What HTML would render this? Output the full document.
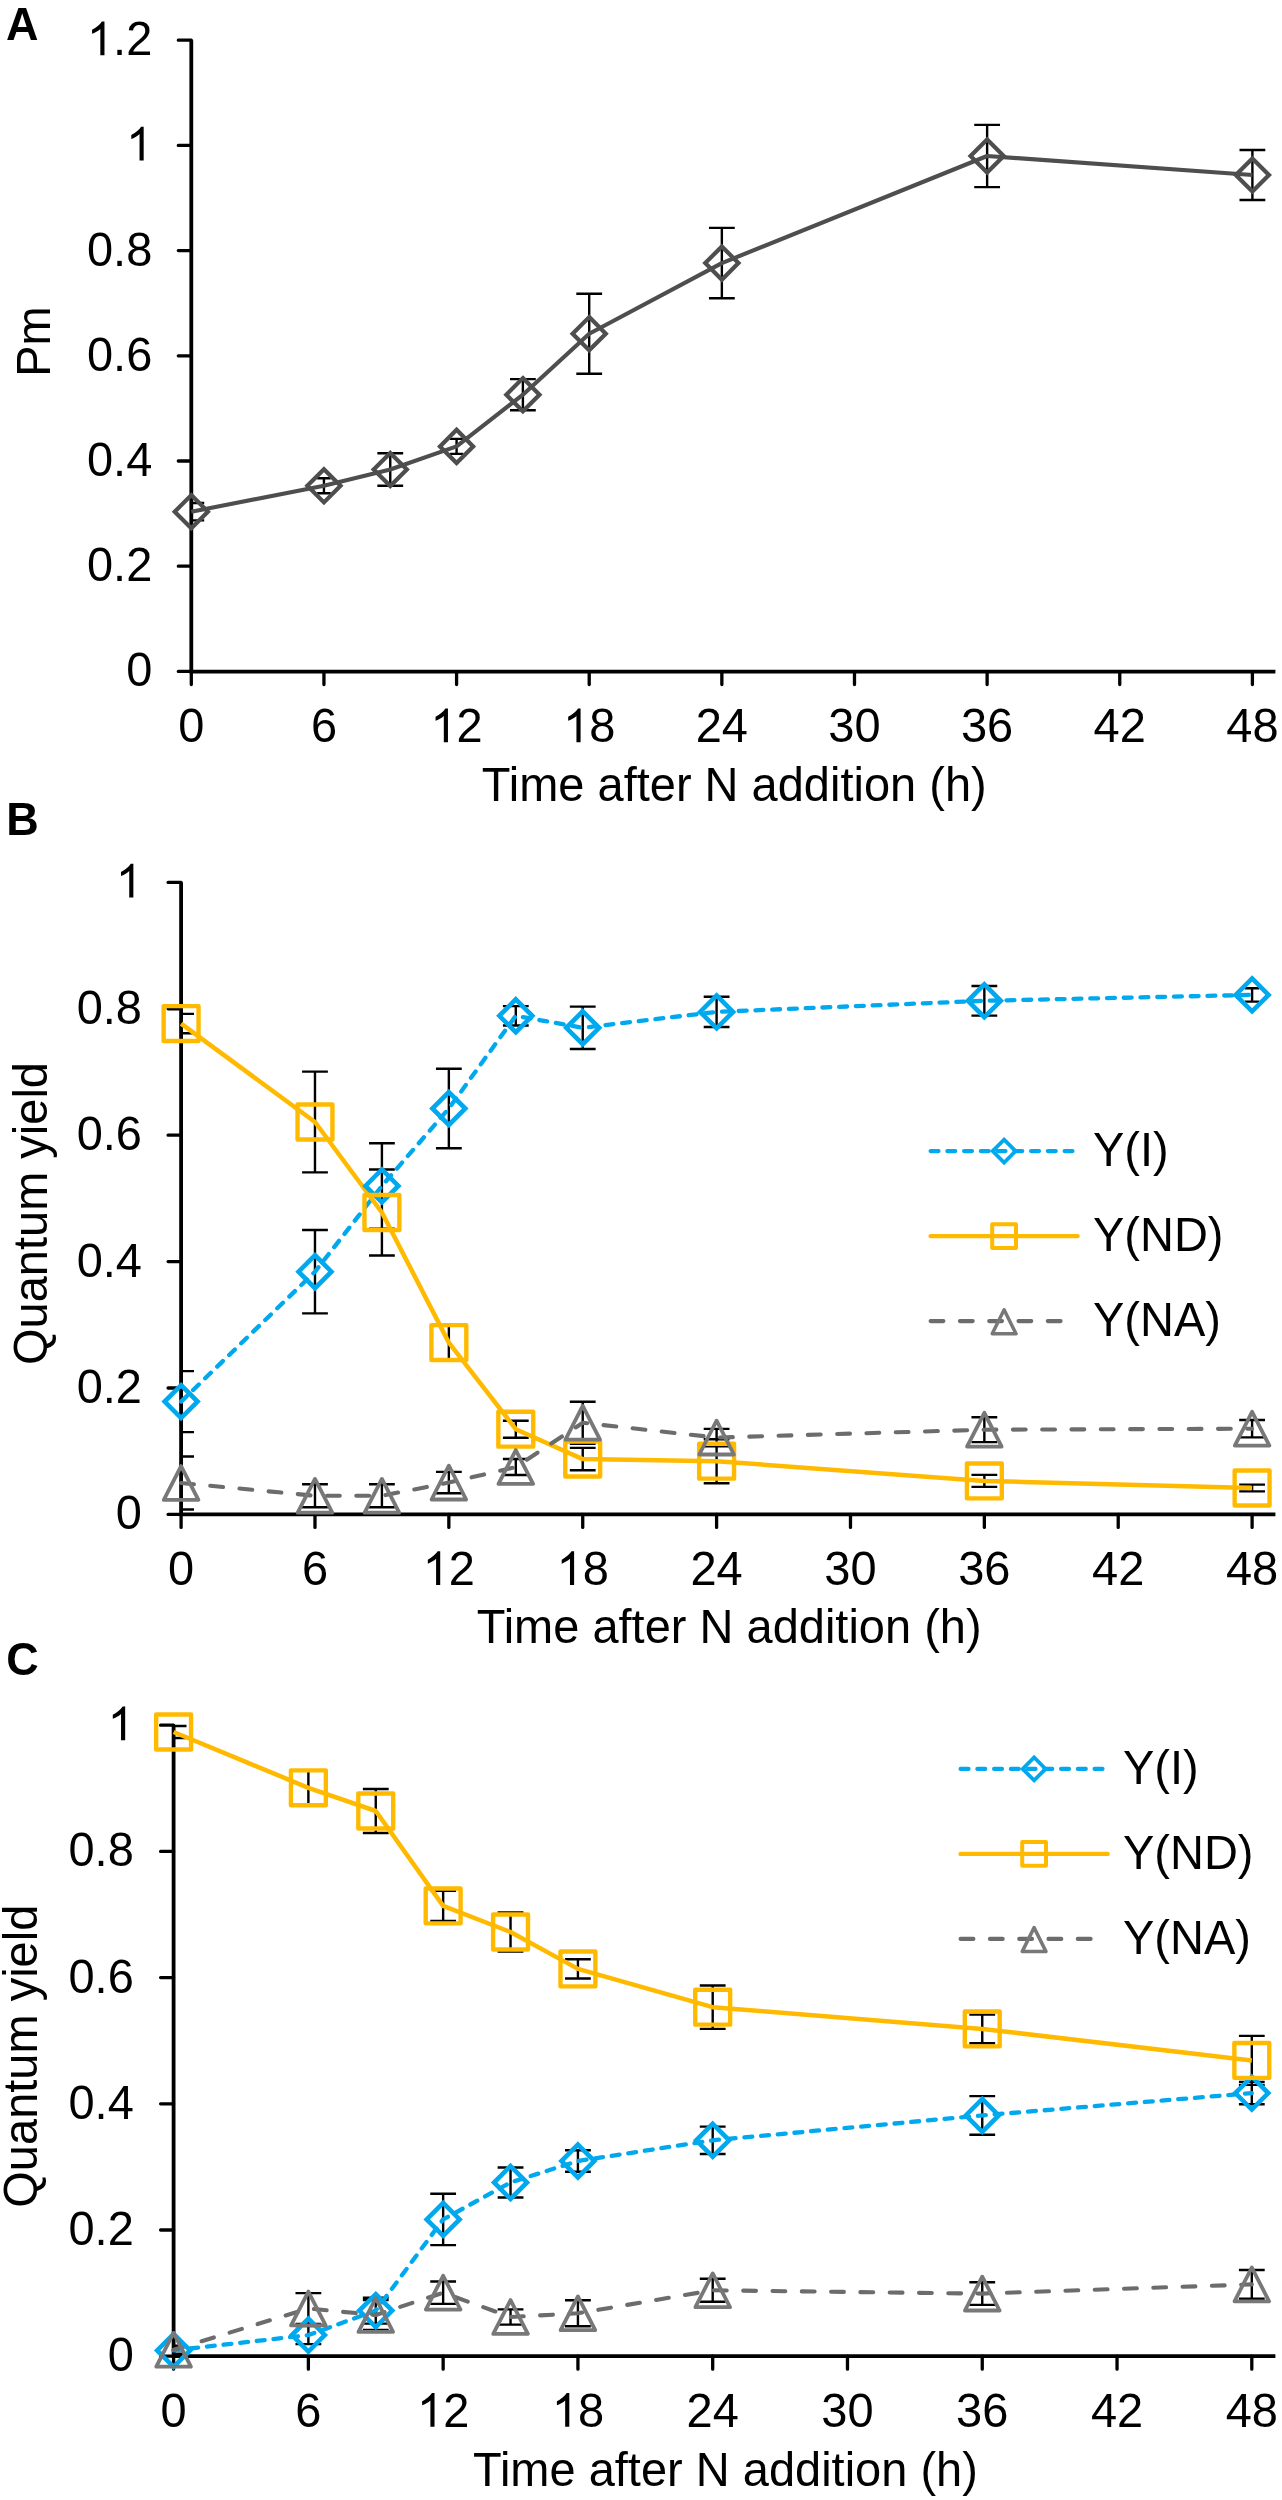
<!DOCTYPE html><html><head><meta charset="utf-8"><title>Figure</title><style>html,body{margin:0;padding:0;background:#fff;}svg{display:block;filter:blur(0.45px);}text{font-family:"Liberation Sans", sans-serif;fill:#000;}</style></head><body>
<svg width="1282" height="2500" viewBox="0 0 1282 2500">
<rect width="1282" height="2500" fill="#fff"/>
<text transform="translate(6 39.8) scale(1 1.0405)" font-size="45" font-weight="bold">A</text>
<path d="M191.3 40.2V671.6H1275.4" stroke="#000" stroke-width="3.8" fill="none" stroke-linejoin="miter" stroke-linecap="butt"/>
<path d="M178.3 671.4H191.3M178.3 566.2H191.3M178.3 461H191.3M178.3 355.8H191.3M178.3 250.6H191.3M178.3 145.4H191.3M178.3 40.2H191.3M191.3 671.6V684.6M323.94 671.6V684.6M456.58 671.6V684.6M589.21 671.6V684.6M721.85 671.6V684.6M854.49 671.6V684.6M987.12 671.6V684.6M1119.76 671.6V684.6M1252.4 671.6V684.6" stroke="#000" stroke-width="3.3" fill="none" stroke-linecap="round"/>
<text transform="translate(152.3 686.4) scale(1 1.0405)" font-size="47" text-anchor="end">0</text>
<text transform="translate(152.3 581.2) scale(1 1.0405)" font-size="47" text-anchor="end">0.2</text>
<text transform="translate(152.3 476) scale(1 1.0405)" font-size="47" text-anchor="end">0.4</text>
<text transform="translate(152.3 370.8) scale(1 1.0405)" font-size="47" text-anchor="end">0.6</text>
<text transform="translate(152.3 265.6) scale(1 1.0405)" font-size="47" text-anchor="end">0.8</text>
<path transform="translate(126.16 160.4) scale(0.02295 -0.02295)" d="M763 0L583 0L583 1147Q518 1085 412 1023Q306 961 223 930L223 1104Q342 1160 483 1280Q600 1380 651 1466L763 1466Z"/>
<text transform="translate(152.3 55.2) scale(1 1.0405)" font-size="47" text-anchor="end"> .2</text><path transform="translate(86.96 55.2) scale(0.02295 -0.02295)" d="M763 0L583 0L583 1147Q518 1085 412 1023Q306 961 223 930L223 1104Q342 1160 483 1280Q600 1380 651 1466L763 1466Z"/>
<text transform="translate(191.3 742.2) scale(1 1.0405)" font-size="47" text-anchor="middle">0</text>
<text transform="translate(323.94 742.2) scale(1 1.0405)" font-size="47" text-anchor="middle">6</text>
<text transform="translate(456.58 742.2) scale(1 1.0405)" font-size="47" text-anchor="middle"> 2</text><path transform="translate(430.44 742.2) scale(0.02295 -0.02295)" d="M763 0L583 0L583 1147Q518 1085 412 1023Q306 961 223 930L223 1104Q342 1160 483 1280Q600 1380 651 1466L763 1466Z"/>
<text transform="translate(589.21 742.2) scale(1 1.0405)" font-size="47" text-anchor="middle"> 8</text><path transform="translate(563.07 742.2) scale(0.02295 -0.02295)" d="M763 0L583 0L583 1147Q518 1085 412 1023Q306 961 223 930L223 1104Q342 1160 483 1280Q600 1380 651 1466L763 1466Z"/>
<text transform="translate(721.85 742.2) scale(1 1.0405)" font-size="47" text-anchor="middle">24</text>
<text transform="translate(854.49 742.2) scale(1 1.0405)" font-size="47" text-anchor="middle">30</text>
<text transform="translate(987.12 742.2) scale(1 1.0405)" font-size="47" text-anchor="middle">36</text>
<text transform="translate(1119.76 742.2) scale(1 1.0405)" font-size="47" text-anchor="middle">42</text>
<text transform="translate(1252.4 742.2) scale(1 1.0405)" font-size="47" text-anchor="middle">48</text>
<text transform="translate(734.25 801.2) scale(1 1.0405)" font-size="47" text-anchor="middle">Time after N addition (h)</text>
<text transform="translate(49.6 341.5) rotate(-90) scale(1 1.0405)" font-size="47" text-anchor="middle">Pm</text>
<path d="M191.3 503V520.4M191.3 503H204.2M191.3 520.4H204.2M323.94 478.3V493.3M317.14 478.3H330.74M317.14 493.3H330.74M390.26 453.3V485.7M377.36 453.3H403.16M377.36 485.7H403.16M456.58 438.9V453.9M449.98 438.9H463.18M449.98 453.9H463.18M522.89 379.1V410.3M509.99 379.1H535.79M509.99 410.3H535.79M589.21 293.7V373.7M576.31 293.7H602.11M576.31 373.7H602.11M721.85 227.9V298.3M708.95 227.9H734.75M708.95 298.3H734.75M987.13 124.9V187.1M974.23 124.9H1000.03M974.23 187.1H1000.03M1252.4 150V200M1239.5 150H1265.3M1239.5 200H1265.3" stroke="#000" stroke-width="2.4" fill="none"/>
<path d="M191.3 511.7L323.94 485.8L390.26 469.5L456.58 446.4L522.89 394.7L589.21 333.7L721.85 263.1L987.13 156L1252.4 175" fill="none" stroke="#4E4E4E" stroke-width="4.1" stroke-linejoin="round" stroke-linecap="butt"/>
<path d="M191.3 495.1L207.9 511.7L191.3 528.3L174.7 511.7Z" fill="none" stroke="#4E4E4E" stroke-width="4.2" stroke-linejoin="miter"/>
<path d="M323.94 469.2L340.54 485.8L323.94 502.4L307.34 485.8Z" fill="none" stroke="#4E4E4E" stroke-width="4.2" stroke-linejoin="miter"/>
<path d="M390.26 452.9L406.86 469.5L390.26 486.1L373.66 469.5Z" fill="none" stroke="#4E4E4E" stroke-width="4.2" stroke-linejoin="miter"/>
<path d="M456.58 429.8L473.18 446.4L456.58 463L439.98 446.4Z" fill="none" stroke="#4E4E4E" stroke-width="4.2" stroke-linejoin="miter"/>
<path d="M522.89 378.1L539.49 394.7L522.89 411.3L506.29 394.7Z" fill="none" stroke="#4E4E4E" stroke-width="4.2" stroke-linejoin="miter"/>
<path d="M589.21 317.1L605.81 333.7L589.21 350.3L572.61 333.7Z" fill="none" stroke="#4E4E4E" stroke-width="4.2" stroke-linejoin="miter"/>
<path d="M721.85 246.5L738.45 263.1L721.85 279.7L705.25 263.1Z" fill="none" stroke="#4E4E4E" stroke-width="4.2" stroke-linejoin="miter"/>
<path d="M987.13 139.4L1003.73 156L987.13 172.6L970.53 156Z" fill="none" stroke="#4E4E4E" stroke-width="4.2" stroke-linejoin="miter"/>
<path d="M1252.4 158.4L1269 175L1252.4 191.6L1235.8 175Z" fill="none" stroke="#4E4E4E" stroke-width="4.2" stroke-linejoin="miter"/>
<text transform="translate(6.3 835.2) scale(1 1.0405)" font-size="45" font-weight="bold">B</text>
<path d="M181.1 882.4V1514.4H1275.4" stroke="#000" stroke-width="3.8" fill="none" stroke-linejoin="miter" stroke-linecap="butt"/>
<path d="M168.1 1514.4H181.1M168.1 1388H181.1M168.1 1261.6H181.1M168.1 1135.2H181.1M168.1 1008.8H181.1M168.1 882.4H181.1M181.1 1514.4V1527.4M314.98 1514.4V1527.4M448.85 1514.4V1527.4M582.73 1514.4V1527.4M716.6 1514.4V1527.4M850.48 1514.4V1527.4M984.35 1514.4V1527.4M1118.22 1514.4V1527.4M1252.1 1514.4V1527.4" stroke="#000" stroke-width="3.3" fill="none" stroke-linecap="round"/>
<text transform="translate(142 1529.4) scale(1 1.0405)" font-size="47" text-anchor="end">0</text>
<text transform="translate(142 1403) scale(1 1.0405)" font-size="47" text-anchor="end">0.2</text>
<text transform="translate(142 1276.6) scale(1 1.0405)" font-size="47" text-anchor="end">0.4</text>
<text transform="translate(142 1150.2) scale(1 1.0405)" font-size="47" text-anchor="end">0.6</text>
<text transform="translate(142 1023.8) scale(1 1.0405)" font-size="47" text-anchor="end">0.8</text>
<path transform="translate(115.86 897.4) scale(0.02295 -0.02295)" d="M763 0L583 0L583 1147Q518 1085 412 1023Q306 961 223 930L223 1104Q342 1160 483 1280Q600 1380 651 1466L763 1466Z"/>
<text transform="translate(181.1 1585) scale(1 1.0405)" font-size="47" text-anchor="middle">0</text>
<text transform="translate(314.98 1585) scale(1 1.0405)" font-size="47" text-anchor="middle">6</text>
<text transform="translate(448.85 1585) scale(1 1.0405)" font-size="47" text-anchor="middle"> 2</text><path transform="translate(422.71 1585) scale(0.02295 -0.02295)" d="M763 0L583 0L583 1147Q518 1085 412 1023Q306 961 223 930L223 1104Q342 1160 483 1280Q600 1380 651 1466L763 1466Z"/>
<text transform="translate(582.73 1585) scale(1 1.0405)" font-size="47" text-anchor="middle"> 8</text><path transform="translate(556.59 1585) scale(0.02295 -0.02295)" d="M763 0L583 0L583 1147Q518 1085 412 1023Q306 961 223 930L223 1104Q342 1160 483 1280Q600 1380 651 1466L763 1466Z"/>
<text transform="translate(716.6 1585) scale(1 1.0405)" font-size="47" text-anchor="middle">24</text>
<text transform="translate(850.48 1585) scale(1 1.0405)" font-size="47" text-anchor="middle">30</text>
<text transform="translate(984.35 1585) scale(1 1.0405)" font-size="47" text-anchor="middle">36</text>
<text transform="translate(1118.22 1585) scale(1 1.0405)" font-size="47" text-anchor="middle">42</text>
<text transform="translate(1252.1 1585) scale(1 1.0405)" font-size="47" text-anchor="middle">48</text>
<text transform="translate(729.15 1643) scale(1 1.0405)" font-size="47" text-anchor="middle">Time after N addition (h)</text>
<text transform="translate(47.1 1213.5) rotate(-90) scale(1 1.0405)" font-size="47" text-anchor="middle">Quantum yield</text>
<path d="M181.1 1371.1V1432.1M181.1 1371.1H194M181.1 1432.1H194M181.1 1013.9V1033.3M181.1 1013.9H194M181.1 1033.3H194M181.1 1456.5V1509.5M181.1 1456.5H194M181.1 1509.5H194M314.98 1230V1313.4M302.08 1230H327.88M302.08 1313.4H327.88M314.98 1071.6V1172.4M302.08 1071.6H327.88M302.08 1172.4H327.88M314.98 1484.3V1507.3M302.08 1484.3H327.88M302.08 1507.3H327.88M381.91 1143.2V1228.6M369.01 1143.2H394.81M369.01 1228.6H394.81M381.91 1169.5V1255.5M369.01 1169.5H394.81M369.01 1255.5H394.81M381.91 1484.3V1507.3M369.01 1484.3H394.81M369.01 1507.3H394.81M448.85 1068.7V1148.3M435.95 1068.7H461.75M435.95 1148.3H461.75M448.85 1325.6V1359.6M435.95 1325.6H461.75M435.95 1359.6H461.75M448.85 1471.9V1493.3M435.95 1471.9H461.75M435.95 1493.3H461.75M515.79 1006.1V1025.5M502.89 1006.1H528.69M502.89 1025.5H528.69M515.79 1420.7V1437.7M502.89 1420.7H528.69M502.89 1437.7H528.69M515.79 1459V1475M502.89 1459H528.69M502.89 1475H528.69M582.73 1006.6V1049M569.83 1006.6H595.62M569.83 1049H595.62M582.73 1447.9V1470.3M569.83 1447.9H595.62M569.83 1470.3H595.62M582.73 1401.8V1443.8M569.83 1401.8H595.62M569.83 1443.8H595.62M716.6 996.8V1027M703.7 996.8H729.5M703.7 1027H729.5M716.6 1439.2V1483.2M703.7 1439.2H729.5M703.7 1483.2H729.5M716.6 1428.9V1446.3M703.7 1428.9H729.5M703.7 1446.3H729.5M984.35 986V1015.6M971.45 986H997.25M971.45 1015.6H997.25M984.35 1474.9V1486.9M971.45 1474.9H997.25M971.45 1486.9H997.25M984.35 1417.3V1442.1M971.45 1417.3H997.25M971.45 1442.1H997.25M1252.1 988.2V1001.6M1244.9 988.2H1259.3M1244.9 1001.6H1259.3M1252.1 1484.6V1491.4M1239.2 1484.6H1265M1239.2 1491.4H1265M1252.1 1420V1437.4M1239.2 1420H1265M1239.2 1437.4H1265" stroke="#000" stroke-width="2.4" fill="none"/>
<path d="M181.1 1401.6L314.98 1271.7L381.91 1185.9L448.85 1108.5L515.79 1015.8L582.73 1027.8L716.6 1011.9L984.35 1000.8L1252.1 994.9" fill="none" stroke="#00A8EE" stroke-width="4.3" stroke-linejoin="round" stroke-linecap="round" stroke-dasharray="7.9 8.85"/>
<path d="M181.1 1023.6L314.98 1122L381.91 1212.5L448.85 1342.6L515.79 1429.2L582.73 1459.1L716.6 1461.2L984.35 1480.9L1252.1 1488" fill="none" stroke="#FFBA00" stroke-width="4.5" stroke-linejoin="round" stroke-linecap="butt"/>
<path d="M181.1 1483L314.98 1495.8L381.91 1495.8L448.85 1482.6L515.79 1467L582.73 1422.8L716.6 1437.6L984.35 1429.7L1252.1 1428.7" fill="none" stroke="#6C6C6C" stroke-width="4.1" stroke-linejoin="round" stroke-linecap="round" stroke-dasharray="12.8 16.5"/>
<path d="M181.1 1385.15L197.55 1401.6L181.1 1418.05L164.65 1401.6Z" fill="none" stroke="#00A8EE" stroke-width="4.6" stroke-linejoin="miter"/>
<path d="M314.98 1255.25L331.43 1271.7L314.98 1288.15L298.53 1271.7Z" fill="none" stroke="#00A8EE" stroke-width="4.6" stroke-linejoin="miter"/>
<path d="M381.91 1169.45L398.36 1185.9L381.91 1202.35L365.46 1185.9Z" fill="none" stroke="#00A8EE" stroke-width="4.6" stroke-linejoin="miter"/>
<path d="M448.85 1092.05L465.3 1108.5L448.85 1124.95L432.4 1108.5Z" fill="none" stroke="#00A8EE" stroke-width="4.6" stroke-linejoin="miter"/>
<path d="M515.79 999.35L532.24 1015.8L515.79 1032.25L499.34 1015.8Z" fill="none" stroke="#00A8EE" stroke-width="4.6" stroke-linejoin="miter"/>
<path d="M582.73 1011.35L599.18 1027.8L582.73 1044.25L566.27 1027.8Z" fill="none" stroke="#00A8EE" stroke-width="4.6" stroke-linejoin="miter"/>
<path d="M716.6 995.45L733.05 1011.9L716.6 1028.35L700.15 1011.9Z" fill="none" stroke="#00A8EE" stroke-width="4.6" stroke-linejoin="miter"/>
<path d="M984.35 984.35L1000.8 1000.8L984.35 1017.25L967.9 1000.8Z" fill="none" stroke="#00A8EE" stroke-width="4.6" stroke-linejoin="miter"/>
<path d="M1252.1 978.45L1268.55 994.9L1252.1 1011.35L1235.65 994.9Z" fill="none" stroke="#00A8EE" stroke-width="4.6" stroke-linejoin="miter"/>
<rect x="163.65" y="1006.15" width="34.9" height="34.9" fill="none" stroke="#FFBA00" stroke-width="4.4" stroke-linejoin="round"/>
<rect x="297.53" y="1104.55" width="34.9" height="34.9" fill="none" stroke="#FFBA00" stroke-width="4.4" stroke-linejoin="round"/>
<rect x="364.46" y="1195.05" width="34.9" height="34.9" fill="none" stroke="#FFBA00" stroke-width="4.4" stroke-linejoin="round"/>
<rect x="431.4" y="1325.15" width="34.9" height="34.9" fill="none" stroke="#FFBA00" stroke-width="4.4" stroke-linejoin="round"/>
<rect x="498.34" y="1411.75" width="34.9" height="34.9" fill="none" stroke="#FFBA00" stroke-width="4.4" stroke-linejoin="round"/>
<rect x="565.27" y="1441.65" width="34.9" height="34.9" fill="none" stroke="#FFBA00" stroke-width="4.4" stroke-linejoin="round"/>
<rect x="699.15" y="1443.75" width="34.9" height="34.9" fill="none" stroke="#FFBA00" stroke-width="4.4" stroke-linejoin="round"/>
<rect x="966.9" y="1463.45" width="34.9" height="34.9" fill="none" stroke="#FFBA00" stroke-width="4.4" stroke-linejoin="round"/>
<rect x="1234.65" y="1470.55" width="34.9" height="34.9" fill="none" stroke="#FFBA00" stroke-width="4.4" stroke-linejoin="round"/>
<path d="M181.1 1466.1L198.4 1499.9L163.8 1499.9Z" fill="none" stroke="#787878" stroke-width="3.8" stroke-linejoin="round"/>
<path d="M314.98 1478.9L332.28 1512.7L297.68 1512.7Z" fill="none" stroke="#787878" stroke-width="3.8" stroke-linejoin="round"/>
<path d="M381.91 1478.9L399.21 1512.7L364.61 1512.7Z" fill="none" stroke="#787878" stroke-width="3.8" stroke-linejoin="round"/>
<path d="M448.85 1465.7L466.15 1499.5L431.55 1499.5Z" fill="none" stroke="#787878" stroke-width="3.8" stroke-linejoin="round"/>
<path d="M515.79 1450.1L533.09 1483.9L498.49 1483.9Z" fill="none" stroke="#787878" stroke-width="3.8" stroke-linejoin="round"/>
<path d="M582.73 1405.9L600.02 1439.7L565.43 1439.7Z" fill="none" stroke="#787878" stroke-width="3.8" stroke-linejoin="round"/>
<path d="M716.6 1420.7L733.9 1454.5L699.3 1454.5Z" fill="none" stroke="#787878" stroke-width="3.8" stroke-linejoin="round"/>
<path d="M984.35 1412.8L1001.65 1446.6L967.05 1446.6Z" fill="none" stroke="#787878" stroke-width="3.8" stroke-linejoin="round"/>
<path d="M1252.1 1411.8L1269.4 1445.6L1234.8 1445.6Z" fill="none" stroke="#787878" stroke-width="3.8" stroke-linejoin="round"/>
<path d="M930.6 1151.1L1073.6 1151.1" fill="none" stroke="#00A8EE" stroke-width="4.2" stroke-linejoin="round" stroke-linecap="round" stroke-dasharray="7.9 8.85"/>
<path d="M1004.1 1139.6L1015.6 1151.1L1004.1 1162.6L992.6 1151.1Z" fill="none" stroke="#00A8EE" stroke-width="3.7" stroke-linejoin="miter"/>
<path d="M930.6 1236.1L1077.6 1236.1" fill="none" stroke="#FFBA00" stroke-width="4.4" stroke-linejoin="round" stroke-linecap="round"/>
<rect x="992.2" y="1224.2" width="23.8" height="23.8" fill="none" stroke="#FFBA00" stroke-width="4" stroke-linejoin="round"/>
<path d="M930.6 1321.1L1073.6 1321.1" fill="none" stroke="#6C6C6C" stroke-width="4.1" stroke-linejoin="round" stroke-linecap="round" stroke-dasharray="12.8 16.5"/>
<path d="M1004.1 1309.8L1016 1333.8L992.2 1333.8Z" fill="none" stroke="#787878" stroke-width="3.5" stroke-linejoin="round"/>
<text transform="translate(1093 1166) scale(1 1.0405)" font-size="47">Y(I)</text>
<text transform="translate(1093 1251) scale(1 1.0405)" font-size="47">Y(ND)</text>
<text transform="translate(1093 1336) scale(1 1.0405)" font-size="47">Y(NA)</text>
<text transform="translate(6.3 1674.6) scale(1 1.0405)" font-size="45" font-weight="bold">C</text>
<path d="M173.6 1725.2V2356.2H1275.4" stroke="#000" stroke-width="3.8" fill="none" stroke-linejoin="miter" stroke-linecap="butt"/>
<path d="M160.6 2356.2H173.6M160.6 2230H173.6M160.6 2103.8H173.6M160.6 1977.6H173.6M160.6 1851.4H173.6M160.6 1725.2H173.6M173.6 2356.2V2369.2M308.38 2356.2V2369.2M443.15 2356.2V2369.2M577.93 2356.2V2369.2M712.7 2356.2V2369.2M847.48 2356.2V2369.2M982.25 2356.2V2369.2M1117.03 2356.2V2369.2M1251.8 2356.2V2369.2" stroke="#000" stroke-width="3.3" fill="none" stroke-linecap="round"/>
<text transform="translate(133.8 2371.2) scale(1 1.0405)" font-size="47" text-anchor="end">0</text>
<text transform="translate(133.8 2245) scale(1 1.0405)" font-size="47" text-anchor="end">0.2</text>
<text transform="translate(133.8 2118.8) scale(1 1.0405)" font-size="47" text-anchor="end">0.4</text>
<text transform="translate(133.8 1992.6) scale(1 1.0405)" font-size="47" text-anchor="end">0.6</text>
<text transform="translate(133.8 1866.4) scale(1 1.0405)" font-size="47" text-anchor="end">0.8</text>
<path transform="translate(107.66 1740.2) scale(0.02295 -0.02295)" d="M763 0L583 0L583 1147Q518 1085 412 1023Q306 961 223 930L223 1104Q342 1160 483 1280Q600 1380 651 1466L763 1466Z"/>
<text transform="translate(173.6 2426.7) scale(1 1.0405)" font-size="47" text-anchor="middle">0</text>
<text transform="translate(308.38 2426.7) scale(1 1.0405)" font-size="47" text-anchor="middle">6</text>
<text transform="translate(443.15 2426.7) scale(1 1.0405)" font-size="47" text-anchor="middle"> 2</text><path transform="translate(417.01 2426.7) scale(0.02295 -0.02295)" d="M763 0L583 0L583 1147Q518 1085 412 1023Q306 961 223 930L223 1104Q342 1160 483 1280Q600 1380 651 1466L763 1466Z"/>
<text transform="translate(577.93 2426.7) scale(1 1.0405)" font-size="47" text-anchor="middle"> 8</text><path transform="translate(551.79 2426.7) scale(0.02295 -0.02295)" d="M763 0L583 0L583 1147Q518 1085 412 1023Q306 961 223 930L223 1104Q342 1160 483 1280Q600 1380 651 1466L763 1466Z"/>
<text transform="translate(712.7 2426.7) scale(1 1.0405)" font-size="47" text-anchor="middle">24</text>
<text transform="translate(847.48 2426.7) scale(1 1.0405)" font-size="47" text-anchor="middle">30</text>
<text transform="translate(982.25 2426.7) scale(1 1.0405)" font-size="47" text-anchor="middle">36</text>
<text transform="translate(1117.03 2426.7) scale(1 1.0405)" font-size="47" text-anchor="middle">42</text>
<text transform="translate(1251.8 2426.7) scale(1 1.0405)" font-size="47" text-anchor="middle">48</text>
<text transform="translate(725.4 2486.4) scale(1 1.0405)" font-size="47" text-anchor="middle">Time after N addition (h)</text>
<text transform="translate(37.2 2056.2) rotate(-90) scale(1 1.0405)" font-size="47" text-anchor="middle">Quantum yield</text>
<path d="M173.6 2346.4V2354.4M173.6 2346.4H186.5M173.6 2354.4H186.5M173.6 1726V1738M173.6 1726H186.5M173.6 1738H186.5M173.6 2345.8V2353.8M173.6 2345.8H186.5M173.6 2353.8H186.5M308.38 2326.1V2344.1M295.48 2326.1H321.27M295.48 2344.1H321.27M308.38 1770.8V1804.8M295.48 1770.8H321.27M295.48 1804.8H321.27M308.38 2293.1V2323.9M295.48 2293.1H321.27M295.48 2323.9H321.27M375.76 2297.6V2323.6M362.86 2297.6H388.66M362.86 2323.6H388.66M375.76 1789V1833M362.86 1789H388.66M362.86 1833H388.66M375.76 2300V2330M362.86 2300H388.66M362.86 2330H388.66M443.15 2193.7V2245.1M430.25 2193.7H456.05M430.25 2245.1H456.05M443.15 1890.9V1920.9M430.25 1890.9H456.05M430.25 1920.9H456.05M443.15 2281.5V2303.9M430.25 2281.5H456.05M430.25 2303.9H456.05M510.54 2167.5V2197.5M497.64 2167.5H523.44M497.64 2197.5H523.44M510.54 1912.4V1951.6M497.64 1912.4H523.44M497.64 1951.6H523.44M510.54 2309.4V2324.6M497.64 2309.4H523.44M497.64 2324.6H523.44M577.93 2150.2V2171.8M565.03 2150.2H590.83M565.03 2171.8H590.83M577.93 1959.3V1978.5M565.03 1959.3H590.83M565.03 1978.5H590.83M577.93 2300.3V2326.3M565.03 2300.3H590.83M565.03 2326.3H590.83M712.7 2126.6V2154M699.8 2126.6H725.6M699.8 2154H725.6M712.7 1985.5V2028.9M699.8 1985.5H725.6M699.8 2028.9H725.6M712.7 2278.8V2301.8M699.8 2278.8H725.6M699.8 2301.8H725.6M982.25 2096.1V2134.7M969.35 2096.1H995.15M969.35 2134.7H995.15M982.25 2014.6V2043.2M969.35 2014.6H995.15M969.35 2043.2H995.15M982.25 2282.3V2304.9M969.35 2282.3H995.15M969.35 2304.9H995.15M1251.8 2081.9V2104.3M1238.9 2081.9H1264.7M1238.9 2104.3H1264.7M1251.8 2035.9V2084.9M1238.9 2035.9H1264.7M1238.9 2084.9H1264.7M1251.8 2270V2298.8M1238.9 2270H1264.7M1238.9 2298.8H1264.7" stroke="#000" stroke-width="2.4" fill="none"/>
<path d="M173.6 2350.4L308.38 2335.1L375.76 2310.6L443.15 2219.4L510.54 2182.5L577.93 2161L712.7 2140.3L982.25 2115.4L1251.8 2093.1" fill="none" stroke="#00A8EE" stroke-width="4.3" stroke-linejoin="round" stroke-linecap="round" stroke-dasharray="7.9 8.85"/>
<path d="M173.6 1732L308.38 1787.8L375.76 1811L443.15 1905.9L510.54 1932L577.93 1968.9L712.7 2007.2L982.25 2028.9L1251.8 2060.4" fill="none" stroke="#FFBA00" stroke-width="4.5" stroke-linejoin="round" stroke-linecap="butt"/>
<path d="M173.6 2349.8L308.38 2308.5L375.76 2315L443.15 2292.7L510.54 2317L577.93 2313.3L712.7 2290.3L982.25 2293.6L1251.8 2284.4" fill="none" stroke="#6C6C6C" stroke-width="4.1" stroke-linejoin="round" stroke-linecap="round" stroke-dasharray="12.8 16.5"/>
<path d="M173.6 2333.95L190.05 2350.4L173.6 2366.85L157.15 2350.4Z" fill="none" stroke="#00A8EE" stroke-width="4.6" stroke-linejoin="miter"/>
<path d="M308.38 2318.65L324.82 2335.1L308.38 2351.55L291.93 2335.1Z" fill="none" stroke="#00A8EE" stroke-width="4.6" stroke-linejoin="miter"/>
<path d="M375.76 2294.15L392.21 2310.6L375.76 2327.05L359.31 2310.6Z" fill="none" stroke="#00A8EE" stroke-width="4.6" stroke-linejoin="miter"/>
<path d="M443.15 2202.95L459.6 2219.4L443.15 2235.85L426.7 2219.4Z" fill="none" stroke="#00A8EE" stroke-width="4.6" stroke-linejoin="miter"/>
<path d="M510.54 2166.05L526.99 2182.5L510.54 2198.95L494.09 2182.5Z" fill="none" stroke="#00A8EE" stroke-width="4.6" stroke-linejoin="miter"/>
<path d="M577.93 2144.55L594.38 2161L577.93 2177.45L561.48 2161Z" fill="none" stroke="#00A8EE" stroke-width="4.6" stroke-linejoin="miter"/>
<path d="M712.7 2123.85L729.15 2140.3L712.7 2156.75L696.25 2140.3Z" fill="none" stroke="#00A8EE" stroke-width="4.6" stroke-linejoin="miter"/>
<path d="M982.25 2098.95L998.7 2115.4L982.25 2131.85L965.8 2115.4Z" fill="none" stroke="#00A8EE" stroke-width="4.6" stroke-linejoin="miter"/>
<path d="M1251.8 2076.65L1268.25 2093.1L1251.8 2109.55L1235.35 2093.1Z" fill="none" stroke="#00A8EE" stroke-width="4.6" stroke-linejoin="miter"/>
<rect x="156.15" y="1714.55" width="34.9" height="34.9" fill="none" stroke="#FFBA00" stroke-width="4.4" stroke-linejoin="round"/>
<rect x="290.93" y="1770.35" width="34.9" height="34.9" fill="none" stroke="#FFBA00" stroke-width="4.4" stroke-linejoin="round"/>
<rect x="358.31" y="1793.55" width="34.9" height="34.9" fill="none" stroke="#FFBA00" stroke-width="4.4" stroke-linejoin="round"/>
<rect x="425.7" y="1888.45" width="34.9" height="34.9" fill="none" stroke="#FFBA00" stroke-width="4.4" stroke-linejoin="round"/>
<rect x="493.09" y="1914.55" width="34.9" height="34.9" fill="none" stroke="#FFBA00" stroke-width="4.4" stroke-linejoin="round"/>
<rect x="560.48" y="1951.45" width="34.9" height="34.9" fill="none" stroke="#FFBA00" stroke-width="4.4" stroke-linejoin="round"/>
<rect x="695.25" y="1989.75" width="34.9" height="34.9" fill="none" stroke="#FFBA00" stroke-width="4.4" stroke-linejoin="round"/>
<rect x="964.8" y="2011.45" width="34.9" height="34.9" fill="none" stroke="#FFBA00" stroke-width="4.4" stroke-linejoin="round"/>
<rect x="1234.35" y="2042.95" width="34.9" height="34.9" fill="none" stroke="#FFBA00" stroke-width="4.4" stroke-linejoin="round"/>
<path d="M173.6 2332.9L190.9 2366.7L156.3 2366.7Z" fill="none" stroke="#787878" stroke-width="3.8" stroke-linejoin="round"/>
<path d="M308.38 2291.6L325.68 2325.4L291.07 2325.4Z" fill="none" stroke="#787878" stroke-width="3.8" stroke-linejoin="round"/>
<path d="M375.76 2298.1L393.06 2331.9L358.46 2331.9Z" fill="none" stroke="#787878" stroke-width="3.8" stroke-linejoin="round"/>
<path d="M443.15 2275.8L460.45 2309.6L425.85 2309.6Z" fill="none" stroke="#787878" stroke-width="3.8" stroke-linejoin="round"/>
<path d="M510.54 2300.1L527.84 2333.9L493.24 2333.9Z" fill="none" stroke="#787878" stroke-width="3.8" stroke-linejoin="round"/>
<path d="M577.93 2296.4L595.23 2330.2L560.63 2330.2Z" fill="none" stroke="#787878" stroke-width="3.8" stroke-linejoin="round"/>
<path d="M712.7 2273.4L730 2307.2L695.4 2307.2Z" fill="none" stroke="#787878" stroke-width="3.8" stroke-linejoin="round"/>
<path d="M982.25 2276.7L999.55 2310.5L964.95 2310.5Z" fill="none" stroke="#787878" stroke-width="3.8" stroke-linejoin="round"/>
<path d="M1251.8 2267.5L1269.1 2301.3L1234.5 2301.3Z" fill="none" stroke="#787878" stroke-width="3.8" stroke-linejoin="round"/>
<path d="M960.6 1768.9L1103.6 1768.9" fill="none" stroke="#00A8EE" stroke-width="4.2" stroke-linejoin="round" stroke-linecap="round" stroke-dasharray="7.9 8.85"/>
<path d="M1034.1 1757.4L1045.6 1768.9L1034.1 1780.4L1022.6 1768.9Z" fill="none" stroke="#00A8EE" stroke-width="3.7" stroke-linejoin="miter"/>
<path d="M960.6 1853.9L1107.6 1853.9" fill="none" stroke="#FFBA00" stroke-width="4.4" stroke-linejoin="round" stroke-linecap="round"/>
<rect x="1022.2" y="1842" width="23.8" height="23.8" fill="none" stroke="#FFBA00" stroke-width="4" stroke-linejoin="round"/>
<path d="M960.6 1938.9L1103.6 1938.9" fill="none" stroke="#6C6C6C" stroke-width="4.1" stroke-linejoin="round" stroke-linecap="round" stroke-dasharray="12.8 16.5"/>
<path d="M1034.1 1927.6L1046 1951.6L1022.2 1951.6Z" fill="none" stroke="#787878" stroke-width="3.5" stroke-linejoin="round"/>
<text transform="translate(1123 1783.8) scale(1 1.0405)" font-size="47">Y(I)</text>
<text transform="translate(1123 1868.8) scale(1 1.0405)" font-size="47">Y(ND)</text>
<text transform="translate(1123 1953.8) scale(1 1.0405)" font-size="47">Y(NA)</text>
</svg></body></html>
